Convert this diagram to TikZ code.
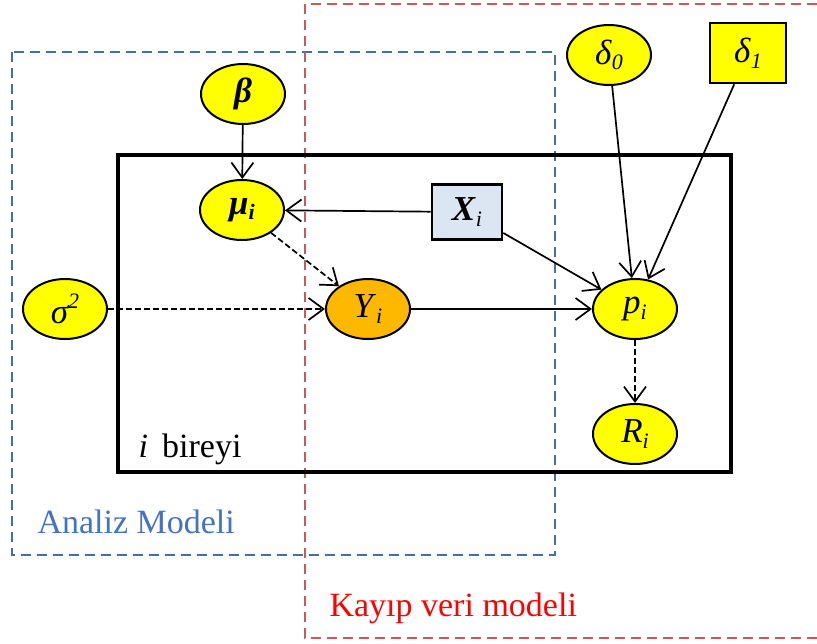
\documentclass[tikz,border=0pt]{standalone}
\usepackage{fontspec}
\setmainfont{Liberation Serif}
\usetikzlibrary{arrows.meta,shapes.geometric}
\definecolor{varyellow}{RGB}{255,255,0}
\definecolor{obsorange}{RGB}{255,184,0}
\definecolor{covblue}{RGB}{220,230,242}
\definecolor{analizblue}{RGB}{65,113,156}
\definecolor{analiztext}{RGB}{68,114,196}
\definecolor{kayipred}{RGB}{200,90,90}
\newcommand{\lowsub}[1]{\raisebox{-0.35ex}{\fontsize{22}{24}\selectfont #1}}
\begin{document}
\begin{tikzpicture}[x=1pt,y=-1pt,
  var/.style={ellipse,draw,line width=2pt,fill=varyellow,minimum width=84pt,minimum height=60pt,inner sep=0pt,font=\fontsize{35}{38}\selectfont},
  obs/.style={var,fill=obsorange},
  fixed/.style={rectangle,draw,line width=2.6pt,fill=varyellow,minimum width=76pt,minimum height=60pt,inner sep=0pt,font=\fontsize{35}{38}\selectfont},
  cov/.style={fixed,fill=covblue,minimum width=70pt,minimum height=55pt},
  dep/.style={line width=1.7pt,-{Straight Barb[length=15pt,width=22pt,line width=1.7pt]}},
  stoch/.style={dep,dash pattern=on 6pt off 3pt},
  region/.style={line width=2.2pt,dash pattern=on 10pt off 6pt}]
\useasboundingbox (0,0) rectangle (817,643);

% Model regions
\draw[region,analizblue] (12,52) rectangle (555,555);
\draw[region,kayipred] (817,4) -- (305,4) -- (305,638) -- (817,638);
\node[anchor=base west,text=analiztext,font=\fontsize{34}{38}\selectfont] (analiz) at (34,533) {Analiz Modeli};
\node[anchor=base west,text=red,font=\fontsize{34}{38}\selectfont] (kayip) at (326,616) {Kayıp veri modeli};

% Plate
\draw[line width=3.2pt] (118,155) rectangle (731,472);
\node[anchor=base west,font=\fontsize{34}{38}\selectfont] (plate) at (135,457) {\textit{i}\, bireyi};

% Nodes
\node[var] (beta) at (243,94) {\textbf{\textit{β}}};
\node[var] (mu) at (242,210) {\textbf{\textit{μ}}\lowsub{\textbf{\textit{i}}}};
\node[cov] (X) at (467,212) {\textbf{\textit{X}}\lowsub{\textit{i}}};
\node[var] (sigma) at (65,309) {\textit{σ}\kern-1pt\raisebox{0.9ex}{\fontsize{22}{24}\selectfont\textit{2}}};
\node[obs] (Y) at (368,309) {\textit{Y}\lowsub{\textit{i}}};
\node[var] (p) at (635,309) {\textit{p}\lowsub{\textit{i}}};
\node[var] (R) at (635,434) {\textit{R}\lowsub{\textit{i}}};
\node[var] (d0) at (609,55) {\textit{δ}\lowsub{\textit{0}}};
\node[fixed] (d1) at (748,53) {\textit{δ}\lowsub{\textit{1}}};

% Connectors
\draw[dep] (beta) -- (mu);
\draw[dep] (X) -- (mu);
\draw[stoch] (mu) -- (Y);
\draw[stoch] (sigma) -- (Y);
\draw[dep] (Y) -- (p);
\draw[dep] (X) -- (p);
\draw[dep] (d0) -- (p);
\draw[dep] (d1) -- (p);
\draw[stoch] (p) -- (R);
\end{tikzpicture}
\end{document}
